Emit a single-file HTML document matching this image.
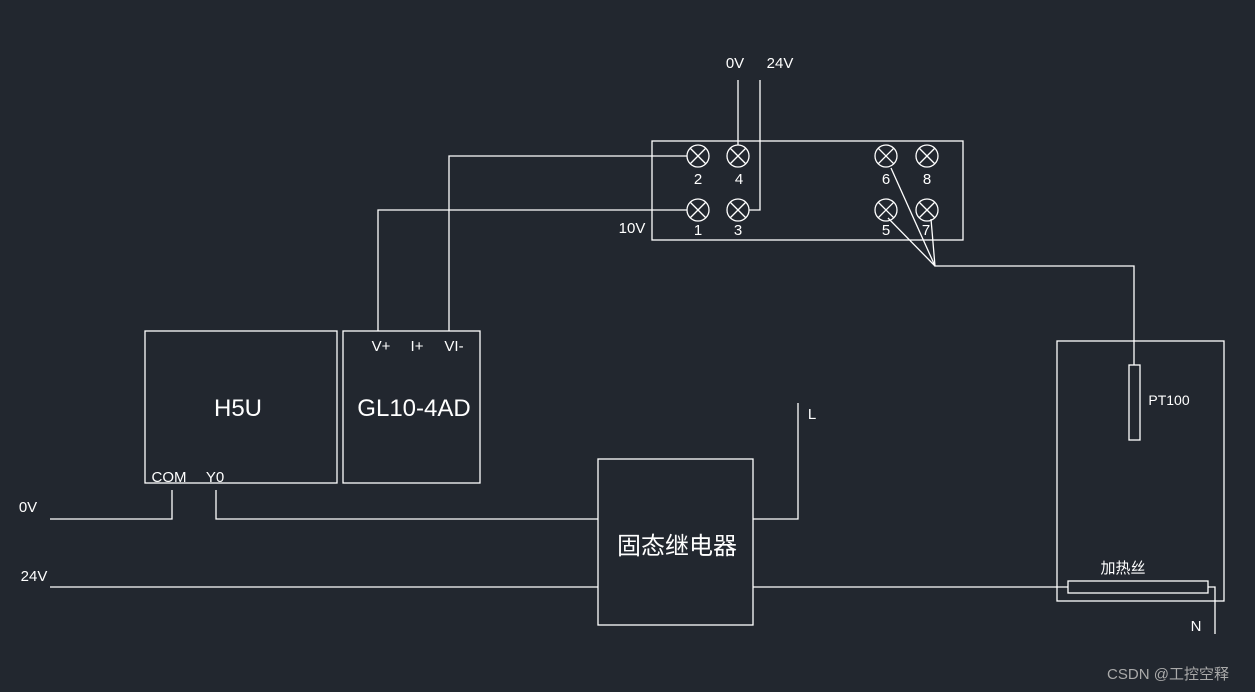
<!DOCTYPE html>
<html><head><meta charset="utf-8"><style>
html,body{margin:0;padding:0;background:#22272f;}
svg{display:block}
text{fill:#fff;font-family:"Liberation Sans","Noto Sans CJK SC",sans-serif}
</style></head><body>
<svg width="1255" height="692" viewBox="0 0 1255 692">
<rect width="1255" height="692" fill="#22272f"/>
<g stroke="#fff" stroke-width="1.3" fill="none">
<rect x="652" y="141" width="311" height="99"/>
<g id="c">
<circle cx="698" cy="156" r="11"/><line x1="690" y1="148" x2="706" y2="164"/><line x1="706" y1="148" x2="690" y2="164"/>
</g>
<use href="#c" x="40"/><use href="#c" y="54"/><use href="#c" x="40" y="54"/>
<use href="#c" x="188"/><use href="#c" x="229"/><use href="#c" x="188" y="54"/><use href="#c" x="229" y="54"/>
<polyline points="738,80 738,145"/>
<polyline points="760,80 760,210 749,210"/>
<polyline points="687,156 449,156 449,331"/>
<polyline points="687,210 378,210 378,331"/>
<polyline points="891,168 935,266"/>
<polyline points="888,218 935,266"/>
<polyline points="931,219 935,266 1134,266 1134,365"/>
<rect x="1129" y="365" width="11" height="75"/>
<rect x="1057" y="341" width="167" height="260"/>
<rect x="1068" y="581" width="140" height="12"/>
<polyline points="1208,587 1215,587 1215,634"/>
<rect x="145" y="331" width="192" height="152"/>
<rect x="343" y="331" width="137" height="152"/>
<polyline points="50,519 172,519 172,490"/>
<polyline points="216,490 216,519 598,519"/>
<rect x="598" y="459" width="155" height="166"/>
<polyline points="50,587 598,587"/>
<polyline points="753,587 1068,587"/>
<polyline points="753,519 798,519 798,403"/>
</g>
<g font-size="15" text-anchor="middle">
<text x="735" y="68">0V</text><text x="780" y="68">24V</text>
<text x="698" y="184">2</text><text x="739" y="184">4</text>
<text x="698" y="235">1</text><text x="738" y="235">3</text>
<text x="886" y="184">6</text><text x="927" y="184">8</text>
<text x="886" y="235">5</text><text x="926" y="235">7</text>
<text x="632" y="233">10V</text>
<text x="381" y="351">V+</text><text x="417" y="351">I+</text><text x="454" y="351">VI-</text>
<text x="169" y="482">COM</text><text x="215" y="482">Y0</text>
<text x="28" y="512">0V</text><text x="34" y="581">24V</text>
<text x="812" y="419">L</text><text x="1196" y="631">N</text>
<text x="1169" y="405" font-size="14">PT100</text>
<text x="1123" y="573" font-size="15">加热丝</text>
</g>
<text x="238" y="416" font-size="24" text-anchor="middle">H5U</text>
<text x="414" y="416" font-size="24" text-anchor="middle">GL10-4AD</text>
<text x="677" y="554" font-size="24" text-anchor="middle">固态继电器</text>
<text x="1168" y="679" font-size="15" text-anchor="middle" style="fill:#aaa">CSDN @工控空释</text>
</svg>
</body></html>
